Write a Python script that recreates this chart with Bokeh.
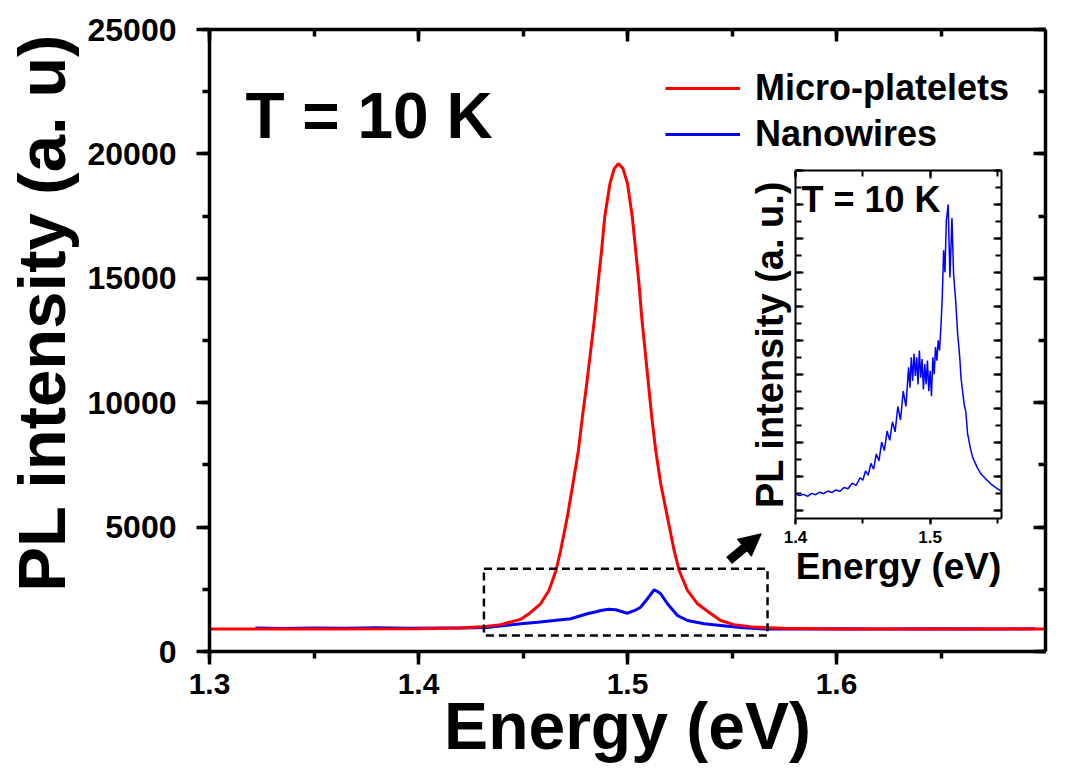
from bokeh.plotting import figure
from bokeh.models import (Range1d, LinearAxis, SingleIntervalTicker, Legend, Label,
                          BoxAnnotation, Arrow, NormalHead, GridBox, CustomJSTickFormatter)
from bokeh.embed import file_html
from bokeh.resources import INLINE

# ---------------- data ----------------
red_energy = [1.300, 1.350, 1.400, 1.420, 1.430, 1.4393, 1.4488, 1.4528, 1.4584, 1.4624,
              1.4658, 1.4680, 1.4712, 1.4739, 1.4765, 1.4784, 1.4805, 1.4824, 1.4843,
              1.4859, 1.4876, 1.4891, 1.4916, 1.4936, 1.4956, 1.4978, 1.5000, 1.5023,
              1.5039, 1.5055, 1.5068, 1.5084, 1.5100, 1.5116, 1.5135, 1.5159, 1.5191,
              1.5223, 1.5247, 1.5287, 1.5335, 1.5399, 1.5446, 1.5510, 1.5605, 1.575,
              1.600, 1.700]
red_intensity = [900, 905, 912, 940, 990, 1080, 1290, 1516, 1918, 2453,
                 3257, 4061, 5400, 6743, 8082, 9421, 10764, 12103, 13442,
                 14785, 16124, 17463, 18806, 19400, 19610, 19420, 18806, 17463,
                 16124, 14785, 13442, 12103, 10764, 9421, 8082, 6743, 5400,
                 4061, 3257, 2453, 1918, 1516, 1246, 1080, 980, 930,
                 905, 900]

blue_energy = [1.322, 1.335, 1.350, 1.365, 1.380, 1.395, 1.410, 1.420, 1.4329, 1.4410,
               1.4488, 1.4570, 1.4648, 1.4728, 1.4808, 1.4850, 1.4872, 1.4910, 1.4944,
               1.4975, 1.5000, 1.5035, 1.5063, 1.5095, 1.5127, 1.5145, 1.5159, 1.5191,
               1.5239, 1.5287, 1.5367, 1.5446, 1.5542, 1.5654, 1.580, 1.600, 1.620,
               1.650, 1.680, 1.695]
blue_intensity = [940, 925, 945, 930, 950, 935, 945, 940, 965, 1040,
                  1114, 1180, 1246, 1315, 1516, 1600, 1649, 1700, 1677,
                  1600, 1540, 1650, 1781, 2119, 2481, 2400, 2320, 1918,
                  1448, 1246, 1114, 1045, 960, 900, 905, 915, 905,
                  910, 905, 915]

inset_energy = [1.400, 1.403, 1.406, 1.409, 1.412, 1.415, 1.418, 1.421, 1.424, 1.427,
                1.430, 1.433, 1.436, 1.439, 1.442, 1.445, 1.448, 1.450, 1.452, 1.454,
                1.456, 1.458, 1.460, 1.462, 1.464, 1.466, 1.468, 1.470, 1.472, 1.474,
                1.476, 1.478, 1.480, 1.482, 1.484, 1.485, 1.486, 1.487, 1.488, 1.489,
                1.490, 1.491, 1.492, 1.493, 1.494, 1.495, 1.496, 1.497, 1.498, 1.499,
                1.500, 1.501, 1.502, 1.503, 1.504, 1.505, 1.506, 1.507, 1.508, 1.509,
                1.510, 1.511, 1.512, 1.5134, 1.5147, 1.5162, 1.5174, 1.519, 1.5204, 1.522,
                1.5229, 1.5253, 1.5265, 1.5278, 1.530, 1.5316, 1.535, 1.5378, 1.541, 1.5452,
                1.549, 1.553]
inset_intensity = [894, 885, 892, 880, 898, 890, 905, 896, 912, 903,
                   918, 910, 933, 925, 958, 945, 990, 975, 1030, 1005,
                   1075, 1040, 1130, 1090, 1200, 1150, 1265, 1210, 1320, 1260,
                   1410, 1330, 1500, 1410, 1640, 1520, 1700, 1560, 1720, 1590,
                   1700, 1540, 1740, 1580, 1690, 1510, 1660, 1540, 1680, 1500,
                   1620, 1470, 1700, 1600, 1760, 1680, 1800, 1740, 1880, 2050,
                   2330, 2200, 2500, 2600, 2170, 2520, 2190, 2030, 1840, 1700,
                   1580, 1420, 1380, 1250, 1160, 1110, 1050, 1012, 985, 953,
                   930, 910]

FONT = "Liberation Sans"
BLANK = "return ''"

# ---------------- main figure ----------------
p = figure(width=1060, height=774, x_range=Range1d(1.3, 1.7), y_range=Range1d(0, 25000),
           output_backend="svg", toolbar_location=None,
           min_border_left=209, min_border_right=15, min_border_top=29, min_border_bottom=123)
p.grid.visible = False
p.outline_line_color = None
p.background_fill_color = "white"

p.xaxis.ticker = SingleIntervalTicker(interval=0.1, num_minor_ticks=2)
p.yaxis.ticker = SingleIntervalTicker(interval=5000, num_minor_ticks=2)

for ax in (p.xaxis[0], p.yaxis[0]):
    ax.axis_line_width = 3.5
    ax.major_tick_line_width = 3.5
    ax.minor_tick_line_width = 3.5
    ax.major_tick_out = 13
    ax.major_tick_in = 0
    ax.minor_tick_out = 7
    ax.minor_tick_in = 0
    ax.major_label_text_font = FONT
    ax.major_label_text_font_style = "bold"
    ax.major_label_text_color = "black"
    ax.axis_label_text_font = FONT
    ax.axis_label_text_font_style = "bold"
    ax.axis_label_text_color = "black"

xa = p.xaxis[0]
xa.major_label_text_font_size = "30px"
xa.major_label_standoff = 9
xa.axis_label = "Energy (eV)"
xa.axis_label_text_font_size = "66px"
xa.axis_label_standoff = -8

ya = p.yaxis[0]
ya.major_label_text_font_size = "32px"
ya.major_label_standoff = 20
ya.axis_label = "\u00a0\u00a0\u00a0PL intensity (a. u)"
ya.axis_label_text_font_size = "67px"
ya.axis_label_standoff = 6

top_ax = LinearAxis(ticker=SingleIntervalTicker(interval=0.1, num_minor_ticks=2))
right_ax = LinearAxis(ticker=SingleIntervalTicker(interval=5000, num_minor_ticks=2))
for ax in (top_ax, right_ax):
    ax.axis_line_width = 3.5
    ax.major_tick_line_width = 3.5
    ax.minor_tick_line_width = 3.5
    ax.major_tick_out = 0
    ax.major_tick_in = 12
    ax.minor_tick_out = 0
    ax.minor_tick_in = 7
    ax.formatter = CustomJSTickFormatter(code=BLANK)
    ax.major_label_text_font_size = "0px"
    ax.major_label_standoff = 0
p.add_layout(top_ax, "above")
p.add_layout(right_ax, "right")

r_blue = p.line(blue_energy, blue_intensity, line_color="#0000FF", line_width=3)
r_red = p.line(red_energy, red_intensity, line_color="#FF0000", line_width=3)

legend = Legend(items=[("Micro-platelets", [r_red]), ("Nanowires", [r_blue])],
                location="top_right", border_line_alpha=0, background_fill_alpha=0,
                label_text_font=FONT, label_text_font_style="bold", label_text_font_size="36px",
                label_text_color="black",
                glyph_width=75, glyph_height=46, label_height=46, label_standoff=15,
                spacing=0, padding=0, margin=36)
p.add_layout(legend)

# zoom box and arrow
BOX_LEFT, BOX_RIGHT, BOX_BOTTOM, BOX_TOP = 1.4313, 1.567, 643, 3325
p.add_layout(BoxAnnotation(left=BOX_LEFT, right=BOX_RIGHT, bottom=BOX_BOTTOM, top=BOX_TOP,
                           fill_alpha=0, line_color="black", line_alpha=1,
                           line_width=2.5, line_dash="8 5"))
p.add_layout(Arrow(end=NormalHead(size=22, fill_color="black", line_color="black"),
                   x_start=1.5486, y_start=3659, x_end=1.5640, y_end=4733,
                   line_width=9, line_color="black"))

p.add_layout(Label(x=1.3172, y=21523, text="T = 10 K", text_font=FONT, text_font_style="bold",
                   text_color="black", text_font_size="64px", text_baseline="alphabetic",
                   text_align="left"))

# ---------------- inset figure ----------------
ins = figure(width=266, height=435, x_range=Range1d(1.4, 1.553), y_range=Range1d(750, 2800),
             output_backend="svg", toolbar_location=None,
             min_border_left=50, min_border_right=10, min_border_top=7, min_border_bottom=80)
ins.grid.visible = False
ins.outline_line_color = None
ins.border_fill_alpha = 0
ins.background_fill_color = "white"

ins.xaxis.ticker = SingleIntervalTicker(interval=0.1, num_minor_ticks=2)
ins.yaxis.ticker = SingleIntervalTicker(interval=200, num_minor_ticks=2)
bx = ins.xaxis[0]
bx.axis_line_width = 2
bx.major_tick_line_width = 2
bx.minor_tick_line_width = 2
bx.major_tick_out = 6
bx.major_tick_in = 0
bx.minor_tick_out = 5
bx.minor_tick_in = 0
bx.major_label_text_font = FONT
bx.major_label_text_font_style = "bold"
bx.major_label_text_font_size = "17px"
bx.major_label_text_color = "black"
bx.major_label_standoff = 6
bx.axis_label = "Energy (eV)"
bx.axis_label_text_font = FONT
bx.axis_label_text_font_style = "bold"
bx.axis_label_text_font_size = "37px"
bx.axis_label_text_color = "black"
bx.axis_label_standoff = 0

ly = ins.yaxis[0]
ly.axis_line_width = 2
ly.major_tick_line_width = 2
ly.minor_tick_line_width = 2
ly.major_tick_out = 0
ly.major_tick_in = 8
ly.minor_tick_out = 0
ly.minor_tick_in = 6
ly.formatter = CustomJSTickFormatter(code=BLANK)
ly.major_label_text_font_size = "0px"
ly.major_label_standoff = 0
ly.axis_label = "PL intensity (a. u.)"
ly.axis_label_text_font = FONT
ly.axis_label_text_font_style = "bold"
ly.axis_label_text_font_size = "38px"
ly.axis_label_text_color = "black"
ly.axis_label_standoff = 5

ins_top = LinearAxis(ticker=SingleIntervalTicker(interval=0.1, num_minor_ticks=2))
ins_right = LinearAxis(ticker=SingleIntervalTicker(interval=200, num_minor_ticks=2))
for ax in (ins_top, ins_right):
    ax.axis_line_width = 2
    ax.major_tick_line_width = 2
    ax.minor_tick_line_width = 2
    ax.major_tick_out = 0
    ax.major_tick_in = 8
    ax.minor_tick_out = 0
    ax.minor_tick_in = 6
    ax.formatter = CustomJSTickFormatter(code=BLANK)
    ax.major_label_text_font_size = "0px"
    ax.major_label_standoff = 0
ins.add_layout(ins_top, "above")
ins.add_layout(ins_right, "right")

ins.line(inset_energy, inset_intensity, line_color="#0000FF", line_width=1.5)

ins.add_layout(Label(x=1.4045, y=2628, text="T = 10 K", text_font=FONT, text_font_style="bold",
                     text_color="black", text_font_size="36px", text_baseline="alphabetic",
                     text_align="left"))

layout = GridBox(children=[(p, 0, 0, 3, 3), (ins, 1, 1, 1, 1)],
                 rows=["163px", "435px", "176px"], cols=["745px", "266px", "49px"])

open("out.html", "w").write(file_html(layout, INLINE))
